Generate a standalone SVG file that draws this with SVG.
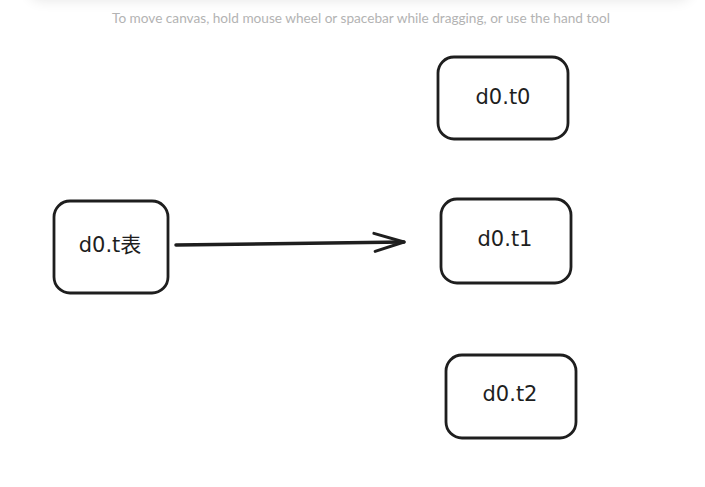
<svg xmlns="http://www.w3.org/2000/svg" width="705" height="487" viewBox="0 0 705 487">
  <defs>
    <filter id="shadow" x="-10%" y="-100%" width="120%" height="300%">
      <feGaussianBlur stdDeviation="7"/>
    </filter>
    <marker id="arrowhead" viewBox="0 0 40 24" refX="32" refY="12" markerWidth="40" markerHeight="24" markerUnits="userSpaceOnUse" orient="auto">
      <path d="M2,3 L32,12 L3,21" fill="none" stroke="#1e1e1e" stroke-width="3" stroke-linecap="round" stroke-linejoin="round"/>
    </marker>
  </defs>
  <style>
    .box { fill: #ffffff; stroke: #1e1e1e; stroke-width: 2.8; }
    .label { font-family: "DejaVu Sans", "Noto Sans CJK SC", sans-serif; font-size: 21px; fill: #1e1e1e; text-anchor: middle; dominant-baseline: central; }
    .hint { font-family: Lato, "Open Sans", sans-serif; font-size: 14px; fill: #b3b3b3; text-anchor: middle; }
    .edge { fill: none; stroke: #1e1e1e; stroke-width: 3.5; stroke-linecap: round; }
  </style>
  <rect width="705" height="487" fill="#ffffff"/>
  <rect x="30" y="-30" width="660" height="30" rx="10" fill="#000000" opacity="0.1" filter="url(#shadow)"/>
  <rect x="0" y="-40" width="705" height="40" fill="#ffffff"/>
  <text class="hint" x="361" y="23" textLength="498" lengthAdjust="spacingAndGlyphs">To move canvas, hold mouse wheel or spacebar while dragging, or use the hand tool</text>

  <g id="edges">
    <path class="edge" d="M176,245 L404,242" marker-end="url(#arrowhead)"/>
  </g>

  <g id="node-d0t">
    <rect class="box" x="54" y="201" width="114" height="92" rx="16"/>
    <text class="label" x="110" y="245">d0.t表</text>
  </g>
  <g id="node-d0t0">
    <rect class="box" x="438" y="57" width="130" height="82" rx="16"/>
    <text class="label" x="503" y="97">d0.t0</text>
  </g>
  <g id="node-d0t1">
    <rect class="box" x="441" y="199" width="130" height="84" rx="16"/>
    <text class="label" x="505" y="239">d0.t1</text>
  </g>
  <g id="node-d0t2">
    <rect class="box" x="446" y="355" width="130" height="83" rx="16"/>
    <text class="label" x="510" y="394">d0.t2</text>
  </g>
</svg>
